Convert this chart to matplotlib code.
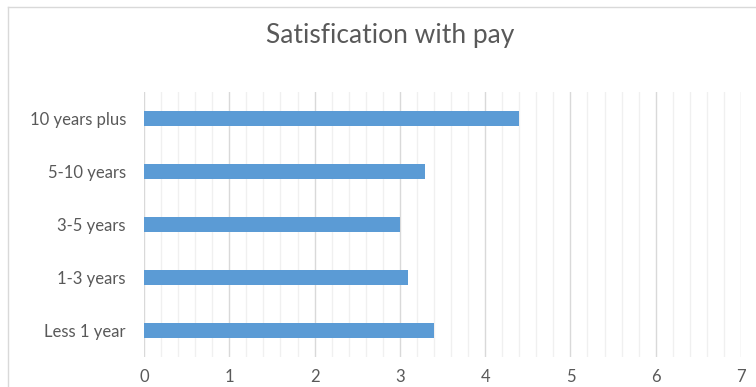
import matplotlib.pyplot as plt
from matplotlib.lines import Line2D
from matplotlib.ticker import MultipleLocator

# Data
categories = ['Less 1 year', '1-3 years', '3-5 years', '5-10 years', '10 years plus']
scores = [3.4, 3.1, 3.0, 3.3, 4.4]

plt.rcParams['font.family'] = ['Lato', 'DejaVu Sans']
text_color = '#595959'

fig = plt.figure(figsize=(7.56, 3.87), dpi=100)
ax = fig.add_axes([144 / 756, 30 / 387, 597 / 756, 265 / 387])

ax.barh(categories, scores, height=0.3, color='#5B9BD5', zorder=3)

ax.set_xlim(0, 7)
ax.set_ylim(-0.5, 4.5)
ax.xaxis.set_major_locator(MultipleLocator(1))
ax.xaxis.set_minor_locator(MultipleLocator(0.2))
ax.grid(axis='x', which='major', color='#D9D9D9', linewidth=1, zorder=0)
ax.grid(axis='x', which='minor', color='#F0F0F0', linewidth=1, zorder=0)
ax.tick_params(axis='both', which='both', length=0, labelcolor=text_color, labelsize=12)
ax.tick_params(axis='y', pad=13)
ax.tick_params(axis='x', pad=9)
for s in ax.spines.values():
    s.set_visible(False)

fig.text(390 / 756, 1 - 35 / 387, 'Satisfication with pay', ha='center', va='center',
         fontsize=19, color=text_color)

# chart frame (left and top edges visible)
frame_color = '#D9D9D9'
fig.add_artist(Line2D([8 / 756, 8 / 756], [0, 1 - 7 / 387], transform=fig.transFigure,
                      color=frame_color, linewidth=1))
fig.add_artist(Line2D([8 / 756, 1], [1 - 7 / 387, 1 - 7 / 387], transform=fig.transFigure,
                      color=frame_color, linewidth=1))

fig.savefig('out.png', dpi=100)
